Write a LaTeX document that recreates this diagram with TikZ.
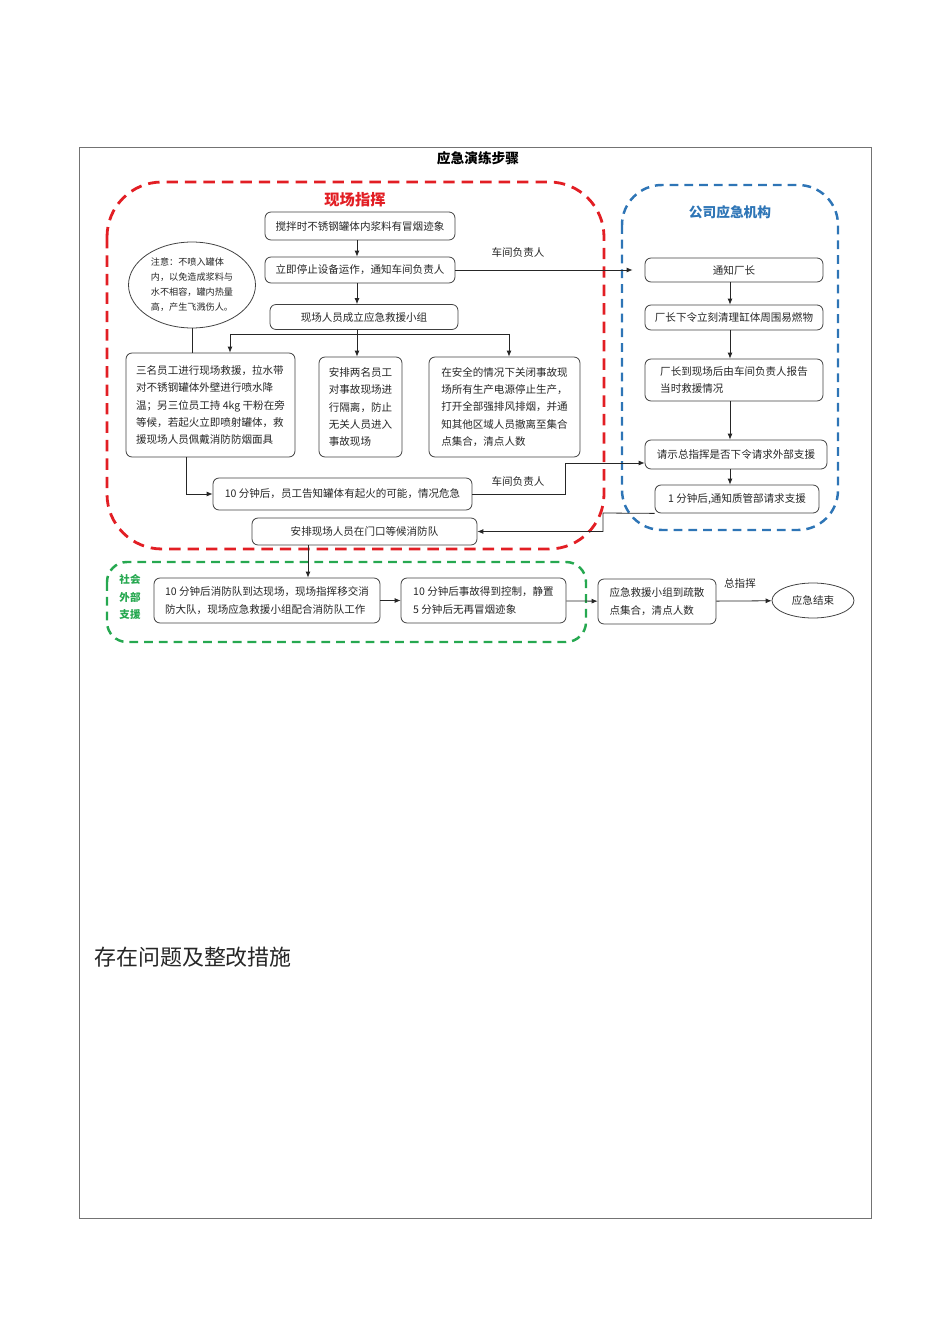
\documentclass[tikz,border=0pt]{standalone}
\usepackage{fontspec}
\setmainfont{Noto Sans CJK SC}
\usetikzlibrary{shapes.geometric,arrows.meta,positioning,calc}
\definecolor{zhred}{RGB}{226,30,36}
\definecolor{zhblue}{RGB}{46,117,182}
\definecolor{zhgreen}{RGB}{38,168,80}
\newcommand{\fs}{\fontsize{6}{9.8}\selectfont}
\newcommand{\fss}{\fontsize{5.2}{8.5}\selectfont}
\tikzset{
  box/.style={rectangle, draw=black!75, rounded corners=1.2mm, line width=0.45pt,
              align=center, font=\fs, text=black!85, inner sep=1pt},
  lbox/.style={box, align=left},
  note/.style={ellipse, draw=black!75, line width=0.45pt, align=left, font=\fss,
               text=black!85, inner sep=0pt},
  zone/.style={line width=1.6pt, dash pattern=on 6.5pt off 4pt},
  arr/.style={-{Latex[length=1.2mm,width=1mm]}, line width=0.45pt, black!85},
  lnk/.style={line width=0.45pt, black!85},
  tag/.style={font=\fs, text=black!85, inner sep=0pt}
}

\begin{document}
\begin{tikzpicture}[x=0.02cm, y=-0.02cm]
  \useasboundingbox (0,0) rectangle (950,1344);
  \draw[black!55, line width=0.5pt] (79,147) rectangle (871,1218);
  \node[font=\fontsize{7.8}{9}\selectfont\bfseries] (title) at (478,158) {应急演练步骤};

  % zones
  \draw[zone, zhred, rounded corners=11mm] (107,182) rectangle (604,549);
  \draw[zone, zhblue, line width=1.4pt, dash pattern=on 5pt off 3.4pt, rounded corners=8mm] (622,185) rectangle (838,530);
  \draw[zone, zhgreen, line width=1.4pt, dash pattern=on 5pt off 3.4pt, rounded corners=4mm] (107,562) rectangle (586,642);
  \node[font=\fontsize{8.7}{10}\selectfont\bfseries, text=zhred] (hred) at (355,200) {现场指挥};
  \node[font=\fontsize{7.8}{9}\selectfont\bfseries, text=zhblue] (hblue) at (730,212) {公司应急机构};
  \node[font=\fontsize{6}{10.2}\selectfont\bfseries, text=zhgreen, align=left] (hgreen) at (130,597) {社会\\外部\\支援};

  % on-site command
  \node[box, minimum width=38mm, minimum height=5.6mm] (b1) at (360,226) {搅拌时不锈钢罐体内浆料有冒烟迹象};
  \node[box, minimum width=38mm, minimum height=5.2mm] (b2) at (360,270) {立即停止设备运作，通知车间负责人};
  \node[box, minimum width=37.6mm, minimum height=5mm] (b3) at (364,317) {现场人员成立应急救援小组};
  \node[note, minimum width=25.4mm, minimum height=17.2mm] (nt) at (192,285)
    {注意：不喷入罐体\\内，以免造成浆料与\\水不相容，罐内热量\\高，产生飞溅伤人。};
  \node[lbox, minimum width=33.8mm, minimum height=20.8mm] (b4) at (210.5,405)
    {三名员工进行现场救援，拉水带\\对不锈钢罐体外壁进行喷水降\\温；另三位员工持 4kg 干粉在旁\\等候，若起火立即喷射罐体，救\\援现场人员佩戴消防防烟面具};
  \node[lbox, minimum width=16.6mm, minimum height=20mm] (b5) at (360.5,407)
    {安排两名员工\\对事故现场进\\行隔离，防止\\无关人员进入\\事故现场};
  \node[lbox, minimum width=30.2mm, minimum height=20mm] (b6) at (504.5,407)
    {在安全的情况下关闭事故现\\场所有生产电源停止生产，\\打开全部强排风排烟，并通\\知其他区域人员撤离至集合\\点集合，清点人数};
  \node[box, minimum width=51.8mm, minimum height=6.4mm] (b7) at (342.5,494) {10 分钟后，员工告知罐体有起火的可能，情况危急};
  \node[box, minimum width=45mm, minimum height=5.4mm] (b8) at (364.5,531.5) {安排现场人员在门口等候消防队};

  % company emergency body
  \node[box, minimum width=35.6mm, minimum height=4.8mm] (q1) at (734,270) {通知厂长};
  \node[box, minimum width=35.6mm, minimum height=5mm] (q2) at (734,317.5) {厂长下令立刻清理缸体周围易燃物};
  \node[lbox, minimum width=35.6mm, minimum height=8.4mm] (q3) at (734,380) {厂长到现场后由车间负责人报告\\当时救援情况};
  \node[box, minimum width=36.4mm, minimum height=5.8mm] (q4) at (736,454.5) {请示总指挥是否下令请求外部支援};
  \node[box, minimum width=32.8mm, minimum height=5.6mm] (q5) at (737,499) {1 分钟后,通知质管部请求支援};

  % outside support
  \node[lbox, minimum width=45.2mm, minimum height=9mm] (g1) at (267,600.5)
    {10 分钟后消防队到达现场，现场指挥移交消\\防大队，现场应急救援小组配合消防队工作};
  \node[lbox, minimum width=33mm, minimum height=9mm] (g2) at (483.5,600.5)
    {10 分钟后事故得到控制，静置\\5 分钟后无再冒烟迹象};
  \node[lbox, minimum width=23.6mm, minimum height=9mm] (g3) at (657,601.5)
    {应急救援小组到疏散\\点集合，清点人数};
  \node[ellipse, draw=black!75, line width=0.45pt, font=\fs, text=black!85,
        minimum width=16.4mm, minimum height=7mm, inner sep=0pt] (fin) at (813,600.5) {应急结束};

  \node[tag] (t1) at (518,252) {车间负责人};
  \node[tag] (t2) at (518,481) {车间负责人};
  \node[tag] (t3) at (740,583) {总指挥};

  \node[font=\fontsize{12.5}{14}\selectfont, text=black!85, anchor=west] (issue) at (88,957) {存在问题及整改措施};

  % connectors
  \coordinate (mx) at (357,0);
  \coordinate (fl) at (230,334);
  \coordinate (fr) at (509,334);
  \coordinate (c4) at (186,0);
  \coordinate (cx) at (308,0);
  \coordinate (qx) at (730,0);
  \draw[arr] (b1.south -| mx) -- (b2.north -| mx);
  \draw[arr] (b2.south -| mx) -- (b3.north -| mx);
  \draw[lnk] (b3.south -| mx) -- (fl -| mx);
  \draw[lnk] (fl) -- (fr);
  \draw[arr] (fl) -- (fl |- b4.north);
  \draw[arr] (fl -| mx) -- (b5.north -| mx);
  \draw[arr] (fr) -- (fr |- b6.north);
  \draw[lnk] (nt.south) -- (nt.south |- b4.north);
  \draw[arr] (b4.south -| c4) |- (b7.west);
  \draw[arr, shorten >=2.4mm] (b2.east) -- (b2.east -| q1.west);
  \draw[arr] (b7.east) -- (565,494) -- (565,463) -- (q4.west |- 0,463);
  \draw[arr] (q1.south -| qx) -- (q2.north -| qx);
  \draw[arr] (q2.south -| qx) -- (q3.north -| qx);
  \draw[arr] (q3.south -| qx) -- (q4.north -| qx);
  \draw[arr] (q4.south -| qx) -- (q5.north -| qx);
  \draw[arr] (q5.south west) -- (603,513) |- (b8.east);
  \draw[arr] (b8.south -| cx) -- (g1.north -| cx);
  \draw[arr] (g1) -- (g2);
  \draw[arr] (g2) -- (g3);
  \draw[arr] (g3) -- (fin);
\end{tikzpicture}
\end{document}
